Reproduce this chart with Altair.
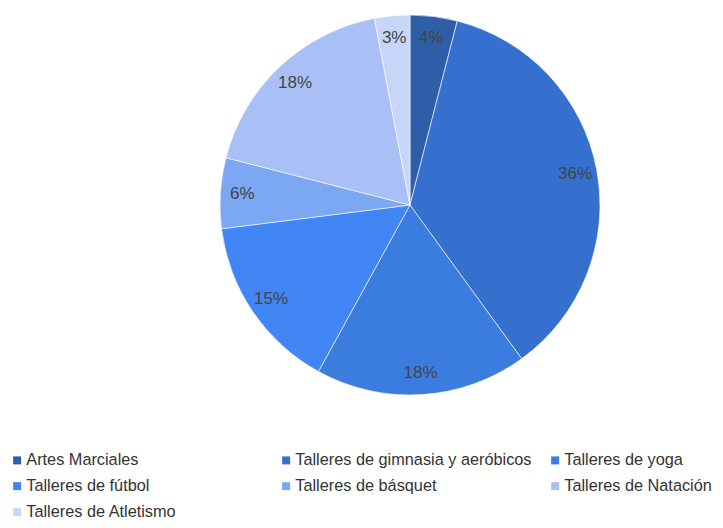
import altair as alt
import pandas as pd

categories = ["Artes Marciales", "Talleres de gimnasia y aeróbicos", "Talleres de yoga",
              "Talleres de fútbol", "Talleres de básquet", "Talleres de Natación",
              "Talleres de Atletismo"]
values = [4, 36, 18, 15, 6, 18, 3]
labels = ["4%", "36%", "18%", "15%", "6%", "18%", "3%"]
colors = ["#2f5ea8", "#3570cf", "#3b7ddf", "#4285f4", "#7ba7f3", "#a9c0f7", "#c6d5f8"]

df = pd.DataFrame({"cat": categories, "val": values, "lab": labels,
                   "idx": list(range(len(categories)))})

base = alt.Chart(df).encode(
    theta=alt.Theta("val:Q", stack=True),
    order=alt.Order("idx:Q"),
    x=alt.value(402),
    y=alt.value(197),
)

arcs = base.mark_arc(radius=190, stroke="white", strokeWidth=0.6).encode(
    color=alt.Color("cat:N", sort=categories,
                    scale=alt.Scale(domain=categories, range=colors),
                    legend=alt.Legend(title=None, orient="none", legendX=1, legendY=444,
                                      direction="horizontal",
                                      columns=3, gridAlign="all", symbolType="square",
                                      symbolSize=64, labelFontSize=16.3, labelFont="Liberation Sans",
                                      labelColor="#333333", rowPadding=9, columnPadding=15,
                                      symbolOffset=0, labelOffset=1, labelLimit=400,
                                      symbolStrokeWidth=0))
)

text = base.mark_text(radius=168, fontSize=17, font="Liberation Sans", color="#444444",
                      align="center", baseline="middle").encode(text="lab:N")

chart = (arcs + text).properties(width=707, height=512, padding=0,
                                  autosize=alt.AutoSizeParams(type="none")).configure_view(stroke=None)

chart.save("out.html", embed_options={"renderer": "svg", "actions": False})
